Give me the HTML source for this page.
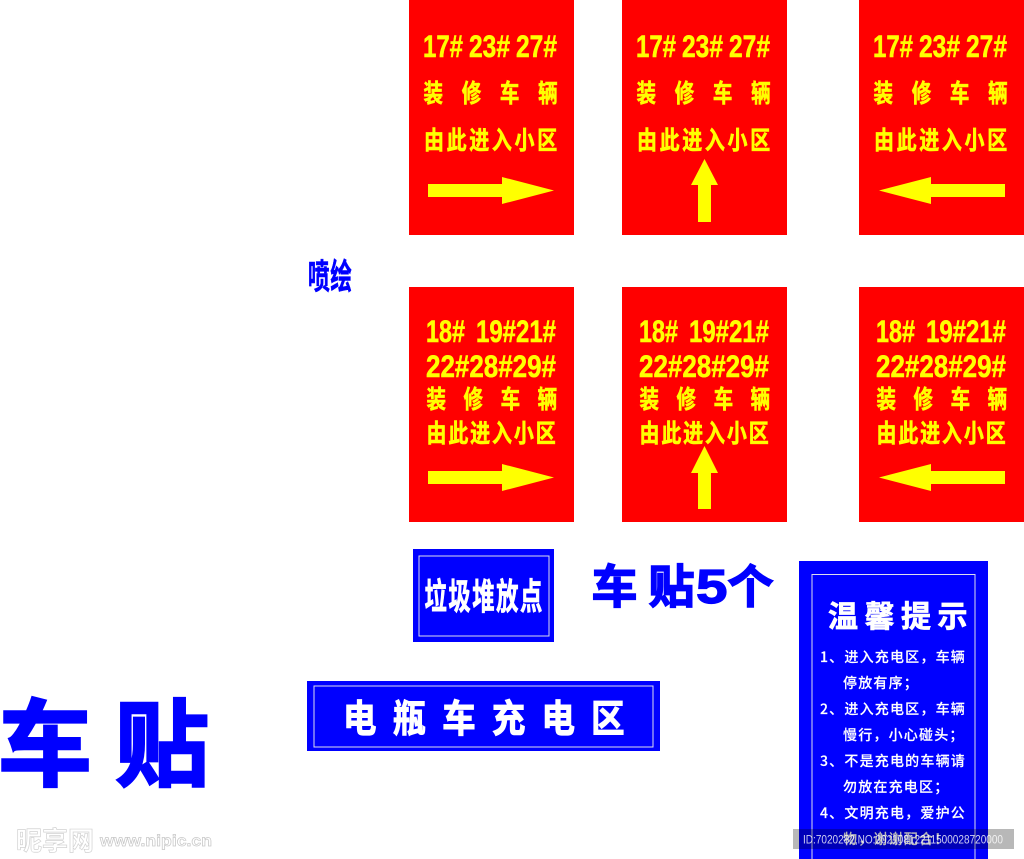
<!DOCTYPE html>
<html><head><meta charset="utf-8">
<style>
html,body{margin:0;padding:0;background:#fff}
svg{display:block}
text{font-family:"Liberation Sans","Noto Sans CJK SC",sans-serif;font-weight:700}
.c{font-family:"Noto Sans CJK SC","Liberation Sans",sans-serif}
.y{fill:#ff0}
.n{font-size:31.500px;fill:#ff0;stroke:#ff0;stroke-width:.5px;font-family:"Liberation Sans",sans-serif}
.z{font-size:25px;fill:#ff0;stroke:#ff0;stroke-width:.6px;font-family:"Noto Sans CJK SC",sans-serif}
.b{font-size:14px;letter-spacing:1.200px;fill:#fff;stroke:#fff;stroke-width:.15px;font-family:"Noto Sans CJK SC",sans-serif;font-weight:500}
</style></head><body>
<svg width="1024" height="859" viewBox="0 0 1024 859" xmlns="http://www.w3.org/2000/svg">
<rect width="1024" height="859" fill="#fff"/>

<!-- Row 1 -->
<g>
<rect x="409" y="0" width="165" height="235" fill="#f00"/>
<text class="n" x="423" y="57" textLength="40" lengthAdjust="spacingAndGlyphs">17#</text>
<text class="n" x="469" y="57" textLength="41" lengthAdjust="spacingAndGlyphs">23#</text>
<text class="n" x="516" y="57" textLength="41" lengthAdjust="spacingAndGlyphs">27#</text>
<text class="z" transform="translate(423.500,102) scale(.78,1)" x="0 49 98 147">装修车辆</text>
<text class="z" transform="translate(424,149) scale(.8,1)" x="0 28.300 56.600 84.900 113.200 141.500">由此进入小区</text>
<polygon class="y" points="428,184 502,184 502,177 554,190.500 502,204 502,197 428,197"/>
</g>
<g transform="translate(213,0)">
<rect x="409" y="0" width="165" height="235" fill="#f00"/>
<text class="n" x="423" y="57" textLength="40" lengthAdjust="spacingAndGlyphs">17#</text>
<text class="n" x="469" y="57" textLength="41" lengthAdjust="spacingAndGlyphs">23#</text>
<text class="n" x="516" y="57" textLength="41" lengthAdjust="spacingAndGlyphs">27#</text>
<text class="z" transform="translate(423.500,102) scale(.78,1)" x="0 49 98 147">装修车辆</text>
<text class="z" transform="translate(424,149) scale(.8,1)" x="0 28.300 56.600 84.900 113.200 141.500">由此进入小区</text>
</g>
<polygon class="y" points="704.500,159 718,185 711,185 711,222 698,222 698,185 691,185"/>
<g transform="translate(450,0)">
<rect x="409" y="0" width="165" height="235" fill="#f00"/>
<text class="n" x="423" y="57" textLength="40" lengthAdjust="spacingAndGlyphs">17#</text>
<text class="n" x="469" y="57" textLength="41" lengthAdjust="spacingAndGlyphs">23#</text>
<text class="n" x="516" y="57" textLength="41" lengthAdjust="spacingAndGlyphs">27#</text>
<text class="z" transform="translate(423.500,102) scale(.78,1)" x="0 49 98 147">装修车辆</text>
<text class="z" transform="translate(424,149) scale(.8,1)" x="0 28.300 56.600 84.900 113.200 141.500">由此进入小区</text>
</g>
<polygon class="y" points="1005,184 931,184 931,177 879,190.500 931,204 931,197 1005,197"/>

<!-- Row 2 -->
<g>
<rect x="409" y="287" width="165" height="235" fill="#f00"/>
<text class="n" x="426" y="342" textLength="39" lengthAdjust="spacingAndGlyphs">18#</text>
<text class="n" x="476" y="342" textLength="80" lengthAdjust="spacingAndGlyphs">19#21#</text>
<text class="n" x="426" y="377" textLength="130" lengthAdjust="spacingAndGlyphs">22#28#29#</text>
<text class="z" transform="translate(426.500,408) scale(.78,1)" x="0 47.500 95 142.500">装修车辆</text>
<text class="z" transform="translate(426.500,442) scale(.8,1)" x="0 27.300 54.600 81.900 109.200 136.500">由此进入小区</text>
<polygon class="y" points="428,471 502,471 502,464 554,477.500 502,491 502,484 428,484"/>
</g>
<g transform="translate(213,0)">
<rect x="409" y="287" width="165" height="235" fill="#f00"/>
<text class="n" x="426" y="342" textLength="39" lengthAdjust="spacingAndGlyphs">18#</text>
<text class="n" x="476" y="342" textLength="80" lengthAdjust="spacingAndGlyphs">19#21#</text>
<text class="n" x="426" y="377" textLength="130" lengthAdjust="spacingAndGlyphs">22#28#29#</text>
<text class="z" transform="translate(426.500,408) scale(.78,1)" x="0 47.500 95 142.500">装修车辆</text>
<text class="z" transform="translate(426.500,442) scale(.8,1)" x="0 27.300 54.600 81.900 109.200 136.500">由此进入小区</text>
</g>
<polygon class="y" points="704.500,446 718,473 711,473 711,509 698,509 698,473 691,473"/>
<g transform="translate(450,0)">
<rect x="409" y="287" width="165" height="235" fill="#f00"/>
<text class="n" x="426" y="342" textLength="39" lengthAdjust="spacingAndGlyphs">18#</text>
<text class="n" x="476" y="342" textLength="80" lengthAdjust="spacingAndGlyphs">19#21#</text>
<text class="n" x="426" y="377" textLength="130" lengthAdjust="spacingAndGlyphs">22#28#29#</text>
<text class="z" transform="translate(426.500,408) scale(.78,1)" x="0 47.500 95 142.500">装修车辆</text>
<text class="z" transform="translate(426.500,442) scale(.8,1)" x="0 27.300 54.600 81.900 109.200 136.500">由此进入小区</text>
</g>
<polygon class="y" points="1005,471 931,471 931,464 879,477.500 931,491 931,484 1005,484"/>

<!-- 喷绘 -->
<text class="c" transform="translate(308,289) scale(.62,1)" x="0 36" font-size="35" fill="#00f" stroke="#00f" stroke-width=".6">喷绘</text>

<!-- 垃圾堆放点 -->
<rect x="413" y="549" width="141" height="93" fill="#00f"/>
<rect x="419" y="556" width="130" height="80" fill="none" stroke="#dde" stroke-width="1"/>
<text class="c" transform="translate(424.500,609) scale(.62,1)" x="0 38.500 77 115.500 154" font-size="36" fill="#fff" stroke="#fff" stroke-width=".8">垃圾堆放点</text>

<!-- 车贴5个 -->
<text class="c" x="591.500" y="603" font-size="46" fill="#00f" stroke="#00f" stroke-width="1.500">车</text>
<text class="c" x="648.500" y="603" font-size="46" fill="#00f" stroke="#00f" stroke-width="1.500">贴</text>
<text transform="translate(696,603) scale(1.180,1)" x="0" y="0" font-size="48" fill="#00f" stroke="#00f" stroke-width="1.200" style="font-family:'Liberation Sans',sans-serif">5</text>
<text class="c" x="727.500" y="603" font-size="46" fill="#00f" stroke="#00f" stroke-width="1.500">个</text>

<!-- 电瓶车充电区 -->
<rect x="307" y="681" width="353" height="70" fill="#00f"/>
<rect x="314" y="686" width="339" height="61" fill="none" stroke="#dde" stroke-width="1"/>
<text class="c" transform="translate(343,732) scale(.88,1)" x="0 56.400 112.800 169.200 225.600 282" font-size="38" fill="#fff" stroke="#fff" stroke-width="1">电瓶车充电区</text>

<!-- 车贴 big -->
<text class="c" x="-2" y="778" font-size="94" fill="#00f" stroke="#00f" stroke-width="2.500">车</text>
<text class="c" x="115" y="778" font-size="94" fill="#00f" stroke="#00f" stroke-width="2.500">贴</text>

<!-- 温馨提示 -->
<rect x="799" y="561" width="189" height="298" fill="#00f"/>
<rect x="812" y="574.500" width="163" height="290" fill="none" stroke="#dde" stroke-width="1"/>
<text class="c" x="828" y="627" font-size="30" fill="#fff" stroke="#fff" stroke-width=".7"><tspan x="828">温</tspan><tspan x="864.500">馨</tspan><tspan x="901">提</tspan><tspan x="937.500">示</tspan></text>
<text class="b" x="820" y="662">1、进入充电区，车辆</text>
<text class="b" x="843" y="688">停放有序；</text>
<text class="b" x="820" y="714">2、进入充电区，车辆</text>
<text class="b" x="843" y="740">慢行，小心碰头；</text>
<text class="b" x="820" y="766">3、不是充电的车辆请</text>
<text class="b" x="843" y="792">勿放在充电区；</text>
<text class="b" x="820" y="818">4、文明充电，爱护公</text>
<text class="b" x="843" y="844">物，谢谢配合！</text>

<!-- watermark -->
<rect x="793" y="829" width="221" height="20" fill="#000" fill-opacity=".28"/>
<text x="803" y="843.500" font-size="12" fill="#fff" fill-opacity=".8" textLength="200" lengthAdjust="spacingAndGlyphs" style="font-weight:400">ID:7020282,NO:20210812211500028720000</text>

<!-- nipic logo -->
<text class="c" x="16" y="850" font-size="26" fill="#fff" stroke="#d2d2d2" stroke-width=".7">昵享网</text>
<text x="100" y="846" font-size="16" fill="#fff" stroke="#c8c8c8" stroke-width=".7" textLength="112" lengthAdjust="spacingAndGlyphs" style="font-family:'Liberation Sans',sans-serif">www.nipic.cn</text>
</svg>
</body></html>
